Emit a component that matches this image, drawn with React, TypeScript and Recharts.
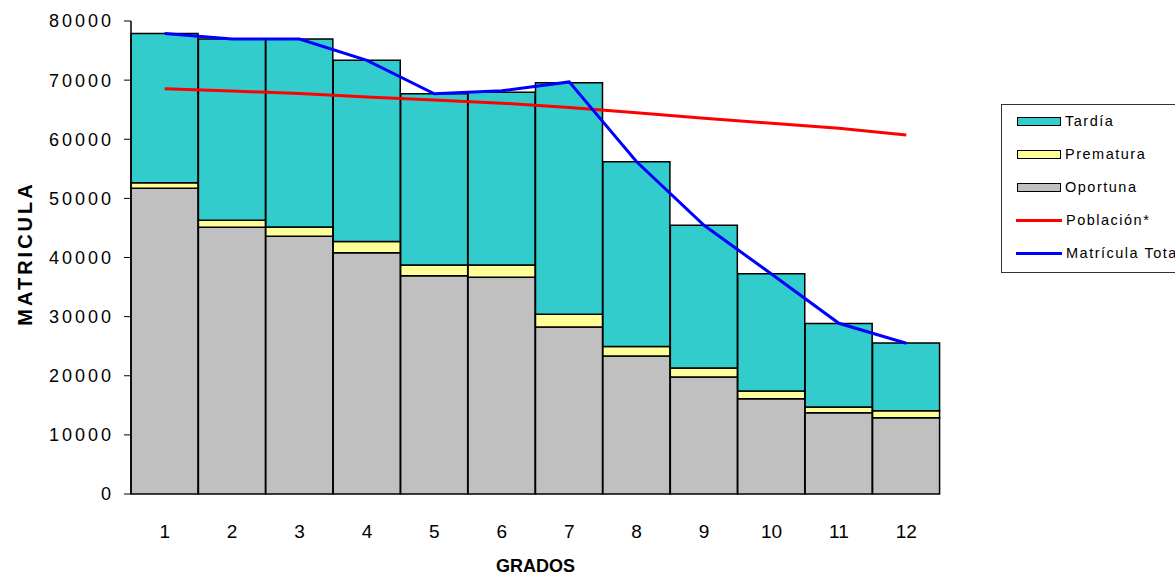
import { ComposedChart, Bar, Line, XAxis, YAxis, Label } from "recharts";

const grados = ["1", "2", "3", "4", "5", "6", "7", "8", "9", "10", "11", "12"];
const oportuna = [51700, 45100, 43600, 40800, 36900, 36650, 28250, 23350, 19800, 16100, 13750, 12900];
const prematura = [950, 1200, 1550, 1900, 1850, 2100, 2150, 1600, 1500, 1300, 950, 1200];
const tardia = [25250, 30650, 31800, 30650, 28950, 29200, 39170, 31250, 24150, 19850, 14150, 11450];
const poblacion = [68550, 68150, 67750, 67150, 66650, 66100, 65350, 64500, 63550, 62700, 61850, 60700];
const matriculaTotal = [77900, 76950, 76950, 73350, 67700, 68200, 69700, 56200, 45450, 37200, 28870, 25500];
const yTicks = [0, 10000, 20000, 30000, 40000, 50000, 60000, 70000, 80000];
const edgeTicks = [0, 1, 2, 3, 4, 5, 6, 7, 8, 9, 10, 11, 12];

const FONT = "'Liberation Sans', Arial, sans-serif";

const legendItems = [
  { label: "Tardía", color: "#33CCCC", kind: "box" },
  { label: "Prematura", color: "#FFFF99", kind: "box" },
  { label: "Oportuna", color: "#C0C0C0", kind: "box" },
  { label: "Población*", color: "#FF0000", kind: "line" },
  { label: "Matrícula Total", color: "#0000FF", kind: "line" },
];

export default function App() {
  const data = grados.map((g, i) => ({
    grado: g,
    oportuna: oportuna[i],
    prematura: prematura[i],
    tardia: tardia[i],
    poblacion: poblacion[i],
    total: matriculaTotal[i],
  }));

  return (
    <div style={{ position: "relative", width: 1175, height: 578, overflow: "hidden", fontFamily: FONT }}>
      <style>{"body{margin:0}"}</style>
      <ComposedChart
        width={1175}
        height={578}
        data={data}
        margin={{ top: 21, right: 235, bottom: 4, left: 0 }}
        barCategoryGap={0}
        barGap={0}
      >
        <XAxis
          xAxisId="edges"
          type="number"
          domain={[0, 12]}
          ticks={edgeTicks}
          tick={false}
          tickSize={6}
          height={0}
          stroke="#000"
          axisLine={{ stroke: "#000", strokeWidth: 1.5 }}
          tickLine={{ stroke: "#000" }}
        />
        <XAxis
          xAxisId="cat"
          dataKey="grado"
          height={80}
          axisLine={false}
          tickLine={false}
          tickSize={0}
          tickMargin={31}
          tick={{ fill: "#000", fontSize: 19, fontFamily: FONT }}
        >
          <Label
            value="GRADOS"
            position="insideBottom"
            offset={2}
            style={{ fill: "#000", fontSize: 18, fontWeight: "bold", fontFamily: FONT }}
          />
        </XAxis>
        <YAxis
          width={131}
          domain={[0, 80000]}
          ticks={yTicks}
          tickSize={7}
          tickMargin={10}
          interval={0}
          axisLine={{ stroke: "#000", strokeWidth: 1.5 }}
          tickLine={{ stroke: "#000" }}
          tick={{ fill: "#000", fontSize: 18, fontFamily: FONT, letterSpacing: 3 }}
        >
          <Label
            value="MATRICULA"
            angle={-90}
            position="insideLeft"
            offset={25}
            dy={-4}
            style={{ textAnchor: "middle", fill: "#000", fontSize: 20, fontWeight: "bold", fontFamily: FONT, letterSpacing: 3 }}
          />
        </YAxis>
        <Bar xAxisId="cat" dataKey="oportuna" stackId="m" fill="#C0C0C0" stroke="#000" strokeWidth={1.5} isAnimationActive={false} />
        <Bar xAxisId="cat" dataKey="prematura" stackId="m" fill="#FFFF99" stroke="#000" strokeWidth={1.5} isAnimationActive={false} />
        <Bar xAxisId="cat" dataKey="tardia" stackId="m" fill="#33CCCC" stroke="#000" strokeWidth={1.5} isAnimationActive={false} />
        <Line xAxisId="cat" type="linear" dataKey="poblacion" stroke="#FF0000" strokeWidth={3} dot={false} isAnimationActive={false} />
        <Line xAxisId="cat" type="linear" dataKey="total" stroke="#0000FF" strokeWidth={3} dot={false} isAnimationActive={false} />
      </ComposedChart>
      <div
        style={{
          position: "absolute",
          left: 1001,
          top: 104,
          width: 210,
          height: 169,
          border: "1px solid #333",
          background: "#fff",
          boxSizing: "border-box",
        }}
      >
        {legendItems.map((it, i) => (
          <div
            key={it.label}
            style={{ position: "absolute", left: 14, top: 7 + i * 33, height: 18, display: "flex", alignItems: "center", whiteSpace: "nowrap" }}
          >
            {it.kind === "box" ? (
              <div style={{ width: 44, height: 9, background: it.color, border: "1px solid #000", boxSizing: "border-box", marginLeft: 1 }} />
            ) : (
              <div style={{ width: 46, height: 3, background: it.color }} />
            )}
            <span style={{ fontSize: 14.5, color: "#000", marginLeft: 4, letterSpacing: 1.5 }}>{it.label}</span>
          </div>
        ))}
      </div>
    </div>
  );
}
